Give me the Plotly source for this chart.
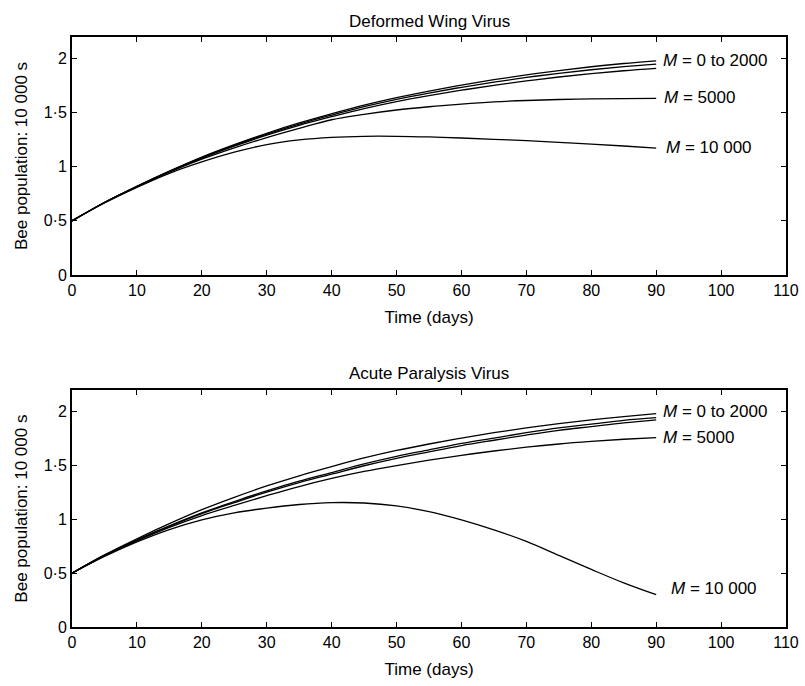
import plotly.graph_objects as go

days = [0, 5, 10, 15, 20, 25, 30, 35, 40, 45, 50, 55, 60, 65, 70, 75, 80, 85, 90]

# Deformed Wing Virus (bee population, units of 10 000)
dwv_m0 = [0.5, 0.67, 0.82, 0.96, 1.09, 1.205, 1.31, 1.405, 1.49, 1.57, 1.64, 1.70, 1.755, 1.805, 1.85, 1.89, 1.925, 1.955, 1.98]
dwv_m1000 = [0.5, 0.67, 0.82, 0.958, 1.086, 1.199, 1.302, 1.395, 1.478, 1.556, 1.624, 1.682, 1.735, 1.783, 1.826, 1.864, 1.897, 1.926, 1.95]
dwv_m2000 = [0.5, 0.67, 0.817, 0.954, 1.08, 1.191, 1.292, 1.383, 1.463, 1.538, 1.603, 1.658, 1.708, 1.753, 1.794, 1.83, 1.861, 1.888, 1.91]
dwv_m5000 = [0.5, 0.67, 0.815, 0.95, 1.07, 1.175, 1.27, 1.355, 1.435, 1.485, 1.525, 1.555, 1.58, 1.60, 1.613, 1.622, 1.628, 1.631, 1.632]
dwv_m10000 = [0.5, 0.665, 0.81, 0.94, 1.045, 1.135, 1.205, 1.248, 1.272, 1.282, 1.282, 1.276, 1.266, 1.254, 1.241, 1.226, 1.21, 1.192, 1.172]

# Acute Paralysis Virus
apv_m0 = [0.5, 0.67, 0.82, 0.96, 1.09, 1.205, 1.31, 1.405, 1.49, 1.57, 1.64, 1.70, 1.755, 1.805, 1.85, 1.89, 1.925, 1.955, 1.982]
apv_m1000 = [0.5, 0.665, 0.81, 0.94, 1.06, 1.165, 1.265, 1.355, 1.435, 1.515, 1.585, 1.645, 1.705, 1.755, 1.805, 1.85, 1.885, 1.92, 1.945]
apv_m2000 = [0.5, 0.665, 0.808, 0.935, 1.053, 1.155, 1.253, 1.342, 1.42, 1.498, 1.567, 1.627, 1.685, 1.735, 1.783, 1.827, 1.862, 1.897, 1.925]
apv_m5000 = [0.5, 0.66, 0.80, 0.925, 1.035, 1.13, 1.22, 1.305, 1.38, 1.445, 1.50, 1.55, 1.595, 1.635, 1.67, 1.70, 1.724, 1.744, 1.76]
apv_m10000 = [0.5, 0.655, 0.79, 0.905, 0.995, 1.06, 1.105, 1.138, 1.155, 1.152, 1.125, 1.072, 0.995, 0.902, 0.795, 0.665, 0.535, 0.41, 0.30]

panel_titles = ["Deformed Wing Virus", "Acute Paralysis Virus"]
x_title = "Time (days)"
y_title = "Bee population: 10 000 s"
x_ticks = [0, 10, 20, 30, 40, 50, 60, 70, 80, 90, 100, 110]
y_tickvals = [0, 0.5, 1, 1.5, 2]
y_ticktext = ["0", "0·5", "1", "1·5", "2"]

labels_text = ["<i>M</i> = 0 to 2000", "<i>M</i> = 5000", "<i>M</i> = 10 000"]
dwv_label_y = [1.98, 1.64, 1.18]
apv_label_y = [2.0, 1.76, 0.36]
dwv_label_x = [90.7, 90.9, 91.2]
apv_label_x = [90.7, 90.7, 92.0]

FONT = "Liberation Sans, Arial, Helvetica, sans-serif"

fig = go.Figure()
line = dict(color="black", width=1.3)
for s in [dwv_m0, dwv_m1000, dwv_m2000, dwv_m5000, dwv_m10000]:
    fig.add_trace(go.Scatter(x=days, y=s, mode="lines", line=dict(line, shape="spline", smoothing=1),
                             xaxis="x", yaxis="y", showlegend=False, hoverinfo="skip"))
for s in [apv_m0, apv_m1000, apv_m2000, apv_m5000, apv_m10000]:
    fig.add_trace(go.Scatter(x=days, y=s, mode="lines", line=dict(line, shape="spline", smoothing=1),
                             xaxis="x2", yaxis="y2", showlegend=False, hoverinfo="skip"))

axis_common = dict(showline=True, linecolor="black", linewidth=2, mirror="ticks",
                   ticks="inside", ticklen=5, tickwidth=1, tickcolor="black",
                   showgrid=False, zeroline=False, automargin=False,
                   tickfont=dict(family=FONT, size=16, color="black"))

xax = dict(axis_common, range=[0, 110], tickvals=x_ticks,
           title=dict(text=x_title, font=dict(family=FONT, size=17, color="black"), standoff=13))
yax = dict(axis_common, range=[0, 2.2], tickvals=y_tickvals, ticktext=y_ticktext,
           title=dict(text=y_title, font=dict(family=FONT, size=17, color="black"), standoff=12))

fig.update_layout(
    width=805, height=686,
    margin=dict(l=71.5, r=19.3, t=36.7, b=58.7),
    paper_bgcolor="white", plot_bgcolor="white",
    font=dict(family=FONT, color="black"),
    xaxis=dict(xax, domain=[0, 1], anchor="y"),
    yaxis=dict(yax, domain=[0.5967, 1.0], anchor="x"),
    xaxis2=dict(xax, domain=[0, 1], anchor="y2"),
    yaxis2=dict(yax, domain=[0.0, 0.4014], anchor="x2"),
)

ann = []
for i, t in enumerate(panel_titles):
    ann.append(dict(text=t, xref="x domain" if i == 0 else "x2 domain",
                    yref="y domain" if i == 0 else "y2 domain",
                    x=0.5, y=1, yanchor="bottom", yshift=4 if i == 0 else 5, showarrow=False,
                    font=dict(family=FONT, size=17, color="black")))
for t, yy, xx in zip(labels_text, dwv_label_y, dwv_label_x):
    ann.append(dict(text=t, x=xx, y=yy, xref="x", yref="y", xanchor="left", yanchor="middle",
                    showarrow=False, font=dict(family=FONT, size=17, color="black")))
for t, yy, xx in zip(labels_text, apv_label_y, apv_label_x):
    ann.append(dict(text=t, x=xx, y=yy, xref="x2", yref="y2", xanchor="left", yanchor="middle",
                    showarrow=False, font=dict(family=FONT, size=17, color="black")))
fig.update_layout(annotations=ann)

fig.write_html("out.html", config={"displayModeBar": False},
               post_script="document.body.style.margin='0';document.body.style.overflow='hidden';")
